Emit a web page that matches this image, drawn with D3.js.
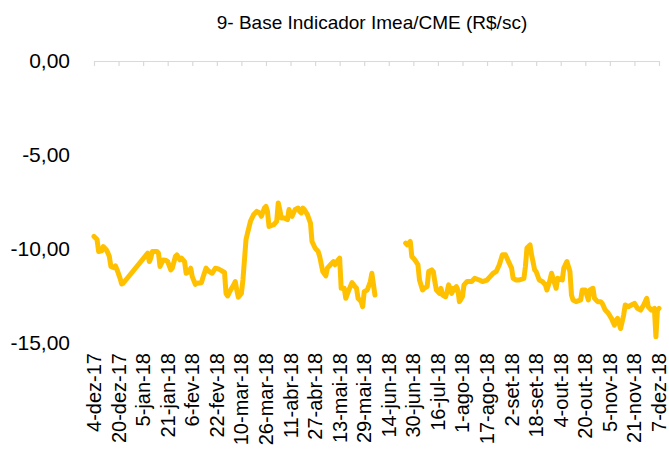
<!DOCTYPE html>
<html>
<head>
<meta charset="utf-8">
<script src="https://cdn.jsdelivr.net/npm/d3@7"></script>
<style>
  body { margin: 0; background: #fff; }
  text { font-family: "Liberation Sans", Arial, sans-serif; fill: #000; }
</style>
</head>
<body>
<svg id="chart" width="669" height="450"></svg>
<script>
var title = "9- Base Indicador Imea/CME (R$/sc)";

// dates of the series (null value = no quote, the line breaks there)
var dates = [
  "2017-12-04","2017-12-06","2017-12-07","2017-12-09","2017-12-10","2017-12-12","2017-12-13","2017-12-14",
  "2017-12-15","2017-12-17","2017-12-18","2017-12-19","2017-12-21","2017-12-22","2017-12-23",
  "2018-01-08","2018-01-09","2018-01-10","2018-01-11","2018-01-14","2018-01-15","2018-01-16","2018-01-18",
  "2018-01-20","2018-01-21","2018-01-23","2018-01-24","2018-01-26","2018-01-27","2018-01-29","2018-01-30",
  "2018-02-01","2018-02-02","2018-02-04","2018-02-05","2018-02-06","2018-02-08","2018-02-09","2018-02-12",
  "2018-02-13","2018-02-15","2018-02-17","2018-02-19","2018-02-21","2018-02-23","2018-02-25","2018-02-27",
  "2018-02-28","2018-03-01","2018-03-03","2018-03-05","2018-03-06","2018-03-07","2018-03-08","2018-03-10",
  "2018-03-11","2018-03-13","2018-03-14","2018-03-16","2018-03-18","2018-03-20","2018-03-22","2018-03-23",
  "2018-03-25","2018-03-26","2018-03-27","2018-03-28","2018-03-31","2018-04-02","2018-04-03","2018-04-04",
  "2018-04-05","2018-04-07","2018-04-09","2018-04-10","2018-04-11","2018-04-12","2018-04-14","2018-04-16",
  "2018-04-17","2018-04-18","2018-04-19","2018-04-20","2018-04-22","2018-04-24","2018-04-25","2018-04-27",
  "2018-04-29","2018-04-30","2018-05-02","2018-05-04","2018-05-05","2018-05-07","2018-05-09","2018-05-10",
  "2018-05-12","2018-05-13","2018-05-14","2018-05-16","2018-05-17","2018-05-19","2018-05-21","2018-05-23",
  "2018-05-24","2018-05-25","2018-05-27","2018-05-28","2018-05-29","2018-05-31","2018-06-02","2018-06-03",
  "2018-06-05",
  "2018-06-15",
  "2018-06-25","2018-06-26","2018-06-28","2018-06-29","2018-07-01","2018-07-03","2018-07-04","2018-07-06",
  "2018-07-07","2018-07-09","2018-07-10","2018-07-12","2018-07-13","2018-07-14","2018-07-15","2018-07-17",
  "2018-07-18","2018-07-19","2018-07-21","2018-07-22","2018-07-23","2018-07-25","2018-07-26","2018-07-27",
  "2018-07-28","2018-07-29","2018-07-30","2018-08-01","2018-08-02","2018-08-04","2018-08-07","2018-08-09",
  "2018-08-12","2018-08-14","2018-08-17","2018-08-19","2018-08-21","2018-08-23","2018-08-25","2018-08-27",
  "2018-08-29","2018-08-31","2018-09-02","2018-09-03","2018-09-05","2018-09-07","2018-09-10","2018-09-11",
  "2018-09-12","2018-09-14","2018-09-15","2018-09-17","2018-09-18","2018-09-20","2018-09-22","2018-09-24",
  "2018-09-25","2018-09-27","2018-09-28","2018-09-30","2018-10-01","2018-10-02","2018-10-05","2018-10-06",
  "2018-10-08","2018-10-10","2018-10-11","2018-10-12","2018-10-14","2018-10-17","2018-10-18","2018-10-20",
  "2018-10-22","2018-10-23","2018-10-25","2018-10-26","2018-10-28","2018-10-30","2018-10-31","2018-11-02",
  "2018-11-04","2018-11-06","2018-11-08","2018-11-09","2018-11-10","2018-11-12","2018-11-14","2018-11-15",
  "2018-11-17","2018-11-19","2018-11-21","2018-11-23","2018-11-25","2018-11-27","2018-11-29","2018-11-30",
  "2018-12-02","2018-12-04","2018-12-05","2018-12-06","2018-12-07"
];

var values = [
  -9.33,-9.5,-10.13,-10.1,-9.87,-10.04,-10.2,-10.4,
  -10.93,-11.0,-10.9,-11.1,-11.56,-11.86,-11.82,
  -10.22,-10.67,-10.49,-10.13,-10.13,-10.22,-10.93,-10.58,
  -10.61,-10.67,-11.11,-11.02,-10.4,-10.31,-10.58,-10.49,
  -10.67,-11.29,-11.2,-11.02,-11.47,-11.88,-11.82,-11.79,
  -11.5,-11.02,-11.2,-11.29,-11.02,-11.06,-11.15,-11.25,
  -12.36,-12.5,-12.18,-11.91,-11.73,-12.18,-12.57,-12.36,
  -11.65,-9.51,-9.15,-8.5,-8.17,-8.0,-8.08,-8.26,
  -7.82,-7.73,-8.0,-8.8,-8.71,-8.53,-7.55,-7.9,
  -8.35,-8.35,-8.44,-7.9,-8.17,-8.26,-7.9,-7.82,
  -8.0,-8.08,-7.82,-7.9,-8.17,-8.62,-9.6,-9.95,
  -10.13,-10.4,-11.2,-11.43,-11.02,-10.84,-10.67,-10.84,
  -10.58,-10.49,-12.09,-12.09,-12.62,-12.18,-11.79,-12.0,
  -12.09,-12.62,-12.8,-13.07,-12.27,-12.18,-11.73,-11.29,
  -12.45,
  null,
  -9.69,-9.78,-9.6,-10.4,-10.58,-10.84,-11.65,-12.18,
  -12.09,-12.0,-11.2,-11.11,-11.2,-11.73,-12.18,-12.36,
  -12.09,-12.45,-12.54,-12.27,-11.91,-12.36,-12.09,-12.18,
  -12.0,-12.18,-12.8,-12.54,-11.91,-11.73,-11.73,-11.56,
  -11.65,-11.73,-11.65,-11.47,-11.29,-11.2,-10.84,-10.31,
  -10.31,-10.67,-11.02,-11.56,-11.65,-11.65,-11.56,-10.93,
  -9.95,-9.78,-10.31,-11.11,-11.2,-11.65,-11.73,-11.91,
  -12.18,-11.65,-11.29,-11.82,-12.09,-11.56,-11.65,-11.02,
  -10.67,-11.2,-12.45,-12.71,-12.8,-12.71,-12.18,-12.18,
  -12.71,-12.18,-12.09,-12.62,-12.8,-12.8,-12.89,-13.25,
  -13.42,-13.69,-14.05,-13.78,-13.69,-14.23,-13.51,-12.98,
  -13.07,-12.98,-12.89,-13.16,-13.25,-12.98,-12.62,-13.07,
  -13.25,-13.16,-14.67,-13.25,-13.16
];

var xTickDates = [
  "2017-12-04","2017-12-20","2018-01-05","2018-01-21","2018-02-06","2018-02-22",
  "2018-03-10","2018-03-26","2018-04-11","2018-04-27","2018-05-13","2018-05-29",
  "2018-06-14","2018-06-30","2018-07-16","2018-08-01","2018-08-17","2018-09-02",
  "2018-09-18","2018-10-04","2018-10-20","2018-11-05","2018-11-21","2018-12-07"
];
var ptMonths = ["jan","fev","mar","abr","mai","jun","jul","ago","set","out","nov","dez"];
var yTicks = [0, -5, -10, -15];

var parse = d3.timeParse("%Y-%m-%d");
var series = dates.map(function(d, i) { return {date: parse(d), value: values[i]}; });
var tickDates = xTickDates.map(parse);

var svg = d3.select("#chart");

var x = d3.scaleTime()
    .domain([tickDates[0], tickDates[tickDates.length - 1]])
    .range([94, 659]);
var y = d3.scaleLinear()
    .domain([-15, 0])
    .range([343, 61]);

svg.append("text")
    .attr("x", 372)
    .attr("y", 29)
    .attr("text-anchor", "middle")
    .style("font-size", "19px")
    .text(title);

// y labels (no axis line, no gridlines)
svg.append("g")
  .selectAll("text")
  .data(yTicks)
  .enter().append("text")
    .attr("x", 70)
    .attr("y", function(d) { return y(d); })
    .attr("dy", "0.35em")
    .attr("text-anchor", "end")
    .style("font-size", "21px")
    .text(function(d) { return d3.format(".2f")(d).replace(".", ",").replace("−", "-"); });

// horizontal axis sits on the zero line
var xAxis = svg.append("g")
    .attr("transform", "translate(0," + y(0) + ")")
    .call(d3.axisBottom(x).tickValues(tickDates).tickSize(5).tickSizeOuter(0).tickFormat(""));
xAxis.select(".domain").attr("stroke", "#d9d9d9").attr("stroke-width", 1.2);
xAxis.selectAll(".tick line").attr("stroke", "#d9d9d9").attr("stroke-width", 1.2);

// date labels below the plot, rotated
svg.append("g")
  .selectAll("text")
  .data(tickDates)
  .enter().append("text")
    .attr("transform", function(d) { return "translate(" + x(d) + ",353) rotate(-90)"; })
    .attr("dy", "0.35em")
    .attr("text-anchor", "end")
    .style("font-size", "20px")
    .text(function(d) {
      return d.getDate() + "-" + ptMonths[d.getMonth()] + "-" + String(d.getFullYear()).slice(2);
    });

var line = d3.line()
    .defined(function(d) { return d.value !== null; })
    .x(function(d) { return x(d.date); })
    .y(function(d) { return y(d.value); });

svg.append("path")
    .datum(series)
    .attr("fill", "none")
    .attr("stroke", "#ffc000")
    .attr("stroke-width", 5)
    .attr("stroke-linejoin", "round")
    .attr("stroke-linecap", "round")
    .attr("d", line);
</script>
</body>
</html>
